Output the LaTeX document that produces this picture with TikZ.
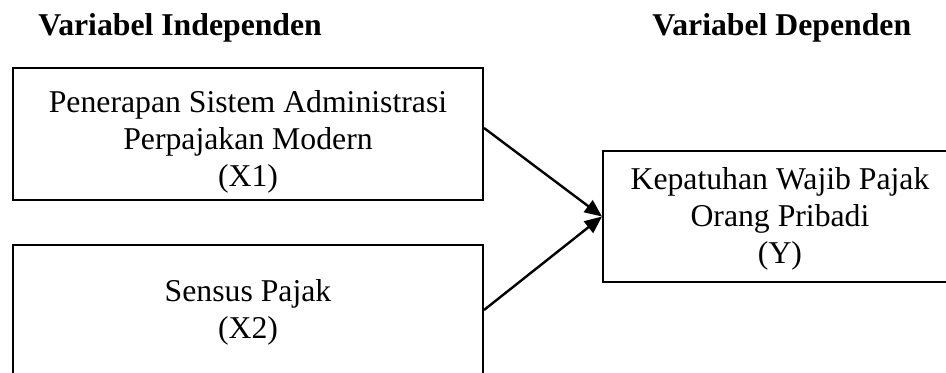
\documentclass[tikz,border=0pt]{standalone}
\usepackage{fontspec}
\setmainfont{Liberation Serif}
\usetikzlibrary{arrows.meta}
\begin{document}
\begin{tikzpicture}[x=0.75pt,y=-0.75pt,
  box/.style={draw=black, line width=1.5pt, rectangle, inner sep=0pt},
  txt/.style={align=center, inner sep=0pt, font=\fontsize{23.8}{27.75}\selectfont},
  title/.style={anchor=base west, inner sep=0pt, font=\fontsize{23.8}{27.75}\selectfont\bfseries},
  conn/.style={line width=1.8pt, -{Triangle[length=13pt,width=11pt]}}]
\useasboundingbox (0,0) rectangle (946,372);
\clip (0,0) rectangle (946,372);
\node[title] (ti) at (38,35) {Variabel Independen};
\node[title] (td) at (652,35) {Variabel Dependen};
\node[box, minimum width=352.5pt, minimum height=99pt] (x1) at (248,134) {};
\node[box, minimum width=352.5pt, minimum height=116.25pt] (x2) at (248,322.5) {};
\node[box, minimum width=265.5pt, minimum height=98.25pt] (y) at (780,216.5) {};
\node[txt] (x1t) at (248,142) {Penerapan Sistem Administrasi\\Perpajakan Modern\\(X1)};
\node[txt] (x2t) at (248,312) {Sensus Pajak\\(X2)};
\node[txt] (yt) at (780,219) {Kepatuhan Wajib Pajak\\Orang Pribadi\\(Y)};
\coordinate (a1) at ([yshift=4.5pt]x1.east);
\coordinate (a2) at (x2.east |- 0,310);
\draw[conn] (a1) -- (y.west);
\draw[conn] (a2) -- (y.west);
\end{tikzpicture}
\end{document}
